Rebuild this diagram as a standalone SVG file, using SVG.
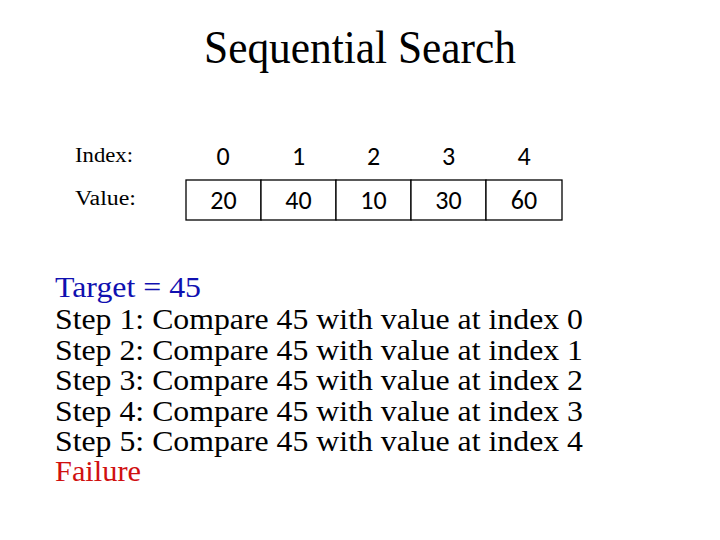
<svg xmlns="http://www.w3.org/2000/svg" width="720" height="540" viewBox="0 0 720 540">
<style>
.title{font-family:"Liberation Serif","Times New Roman",serif;font-size:46px;fill:#000}
.lbl{font-family:"Liberation Serif","Times New Roman",serif;font-size:20px;fill:#000}
.num{font-family:"Carlito","Liberation Sans",Arial,sans-serif;font-size:26px;fill:#000;text-anchor:middle}
.cell{fill:#fff;stroke:#000;stroke-width:1.3}
.step{font-family:"Liberation Serif","Times New Roman",serif;font-size:30px;fill:#000}
</style>
<rect width="720" height="540" fill="#fff"/>
<text class="title" x="204" y="63" textLength="312" lengthAdjust="spacingAndGlyphs">Sequential Search</text>
<g id="labels">
<text class="lbl" x="75" y="162" textLength="58" lengthAdjust="spacingAndGlyphs">Index:</text>
<text class="lbl" x="75" y="205" textLength="61" lengthAdjust="spacingAndGlyphs">Value:</text>
</g>
<g id="cell0"><rect class="cell" x="186" y="180" width="75" height="40"/><text class="num" x="223" y="165">0</text><text class="num" x="223.5" y="209">20</text></g>
<g id="cell1"><rect class="cell" x="261" y="180" width="75" height="40"/><text class="num" x="298.5" y="165">1</text><text class="num" x="298.5" y="209">40</text></g>
<g id="cell2"><rect class="cell" x="336" y="180" width="75" height="40"/><text class="num" x="373.5" y="165">2</text><text class="num" x="373.5" y="209">10</text></g>
<g id="cell3"><rect class="cell" x="411" y="180" width="75" height="40"/><text class="num" x="448.5" y="165">3</text><text class="num" x="448.5" y="209">30</text></g>
<g id="cell4"><rect class="cell" x="486" y="180" width="76" height="40"/><text class="num" x="524" y="165">4</text><text class="num" x="524" y="209">60</text></g>
<g id="steps">
<text class="step" x="55" y="297" textLength="146" lengthAdjust="spacingAndGlyphs" style="fill:#1010b0">Target = 45</text>
<text class="step" x="55" y="329" textLength="528" lengthAdjust="spacingAndGlyphs">Step 1: Compare 45 with value at index 0</text>
<text class="step" x="55" y="359.5" textLength="528" lengthAdjust="spacingAndGlyphs">Step 2: Compare 45 with value at index 1</text>
<text class="step" x="55" y="390" textLength="528" lengthAdjust="spacingAndGlyphs">Step 3: Compare 45 with value at index 2</text>
<text class="step" x="55" y="420.5" textLength="528" lengthAdjust="spacingAndGlyphs">Step 4: Compare 45 with value at index 3</text>
<text class="step" x="55" y="451" textLength="528" lengthAdjust="spacingAndGlyphs">Step 5: Compare 45 with value at index 4</text>
<text class="step" x="55" y="481" textLength="86" lengthAdjust="spacingAndGlyphs" style="fill:#d01010">Failure</text>
</g>
</svg>
